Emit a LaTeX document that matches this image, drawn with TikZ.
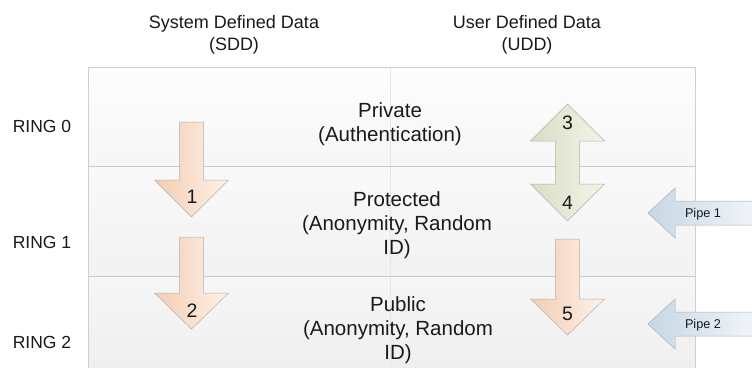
\documentclass[tikz,border=0pt]{standalone}
\usepackage{fontspec}
\setmainfont{Liberation Sans}
\definecolor{textc}{HTML}{1A1A1A}
\definecolor{boxc}{HTML}{CFCFCF}
\definecolor{bandc}{HTML}{C9C9C9}
\definecolor{faintc}{HTML}{E6E6E6}
\definecolor{bAt}{HTML}{FDFDFD}
\definecolor{bAb}{HTML}{F6F6F6}
\definecolor{bBt}{HTML}{F9F9F9}
\definecolor{bBb}{HTML}{F2F2F2}
\definecolor{bCt}{HTML}{F6F6F6}
\definecolor{bCb}{HTML}{EFEFEF}
\definecolor{peachL}{HTML}{F3CDB2}
\definecolor{peachR}{HTML}{FDF2EA}
\definecolor{greenL}{HTML}{DADDC4}
\definecolor{greenR}{HTML}{F3F4EA}
\definecolor{blueL}{HTML}{C6D7E6}
\definecolor{blueR}{HTML}{F0F4F8}
\definecolor{arrline}{HTML}{B5B0AA}
\newcommand\arrDown[5]{%
  \shadedraw[#1] ({#2-12},#3) -- ({#2+12},#3) -- ({#2+12},#4) -- ({#2+37},#4)
    -- (#2,#5) -- ({#2-37},#4) -- ({#2-12},#4) -- cycle;}
\newcommand\arrPipe[2]{% #1 style, #2 centre y
  \shadedraw[#1] (754,{#2-12}) -- (675,{#2-12}) -- (675,{#2-25}) -- (648,#2)
    -- (675,{#2+25}) -- (675,{#2+12}) -- (754,{#2+12});}
\begin{document}
\begin{tikzpicture}[x=1pt,y=-1pt,
  txt/.style={text=textc, inner sep=0pt, anchor=base},
  hdr/.style={txt, font=\fontsize{18}{22}\selectfont, align=center},
  ring/.style={txt, font=\fontsize{17.5}{21}\selectfont},
  zone/.style={txt, font=\fontsize{20.5}{24}\selectfont, align=center},
  num/.style={txt, font=\fontsize{19.5}{22}\selectfont},
  pipelbl/.style={txt, font=\fontsize{12.7}{15}\selectfont},
  peach/.style={left color=peachL, right color=peachR, draw=arrline, line width=0.5pt},
  green/.style={left color=greenL, right color=greenR, draw=arrline, line width=0.5pt},
  blue/.style={left color=blueL, right color=blueR, draw=arrline, line width=0.5pt},
  boxline/.style={draw=boxc, line width=0.9pt},
  bandline/.style={draw=bandc, line width=0.8pt},
  faint/.style={draw=faintc, line width=0.5pt}]
\useasboundingbox (0,0) rectangle (752,367);
\fill[white] (0,0) rectangle (752,367);
% bands
\shade[top color=bAt, bottom color=bAb] (88,67) rectangle (695,166);
\shade[top color=bBt, bottom color=bBb] (88,166) rectangle (695,276);
\shade[top color=bCt, bottom color=bCb] (88,276) rectangle (695,368);
\draw[faint] (390,67) -- (390,368);
\draw[bandline] (88,166) -- (695,166);
\draw[bandline] (88,276) -- (695,276);
\draw[boxline] (88,368) -- (88,67) -- (695,67) -- (695,368);
% headers (anchor = baseline of last line)
\node[hdr] (hdrS) at (234,50) {System Defined Data\\(SDD)};
\node[hdr] (hdrU) at (527,50) {User Defined Data\\(UDD)};
% ring labels
\node[ring] (ring0) at (42,132) {RING 0};
\node[ring] (ring1) at (42,248) {RING 1};
\node[ring] (ring2) at (42,348) {RING 2};
% zone texts
\node[zone] (zPriv) at (390,141) {Private\\(Authentication)};
\node[zone] (zProt) at (397,254) {Protected\\(Anonymity, Random\\ID)};
\node[zone] (zPub) at (398,359) {Public\\(Anonymity, Random\\ID)};
% SDD arrows
\arrDown{peach}{191.5}{122}{180}{217}
\arrDown{peach}{191.5}{237}{293}{329}
\node[num] (n1) at (192,203) {1};
\node[num] (n2) at (192,317) {2};
% UDD double arrow
\shadedraw[green] (567.5,104) -- (604.5,141) -- (579.5,141) -- (579.5,184) -- (604.5,184)
  -- (567.5,221) -- (530.5,184) -- (555.5,184) -- (555.5,141) -- (530.5,141) -- cycle;
\node[num] (n3) at (567.5,129) {3};
\node[num] (n4) at (567.5,209) {4};
\arrDown{peach}{567.5}{239}{299}{335}
\node[num] (n5) at (567.5,320) {5};
% pipes
\arrPipe{blue}{213}
\arrPipe{blue}{324}
\node[pipelbl] (pipe1) at (703,217) {Pipe 1};
\node[pipelbl] (pipe2) at (703,328) {Pipe 2};
\end{tikzpicture}
\end{document}
